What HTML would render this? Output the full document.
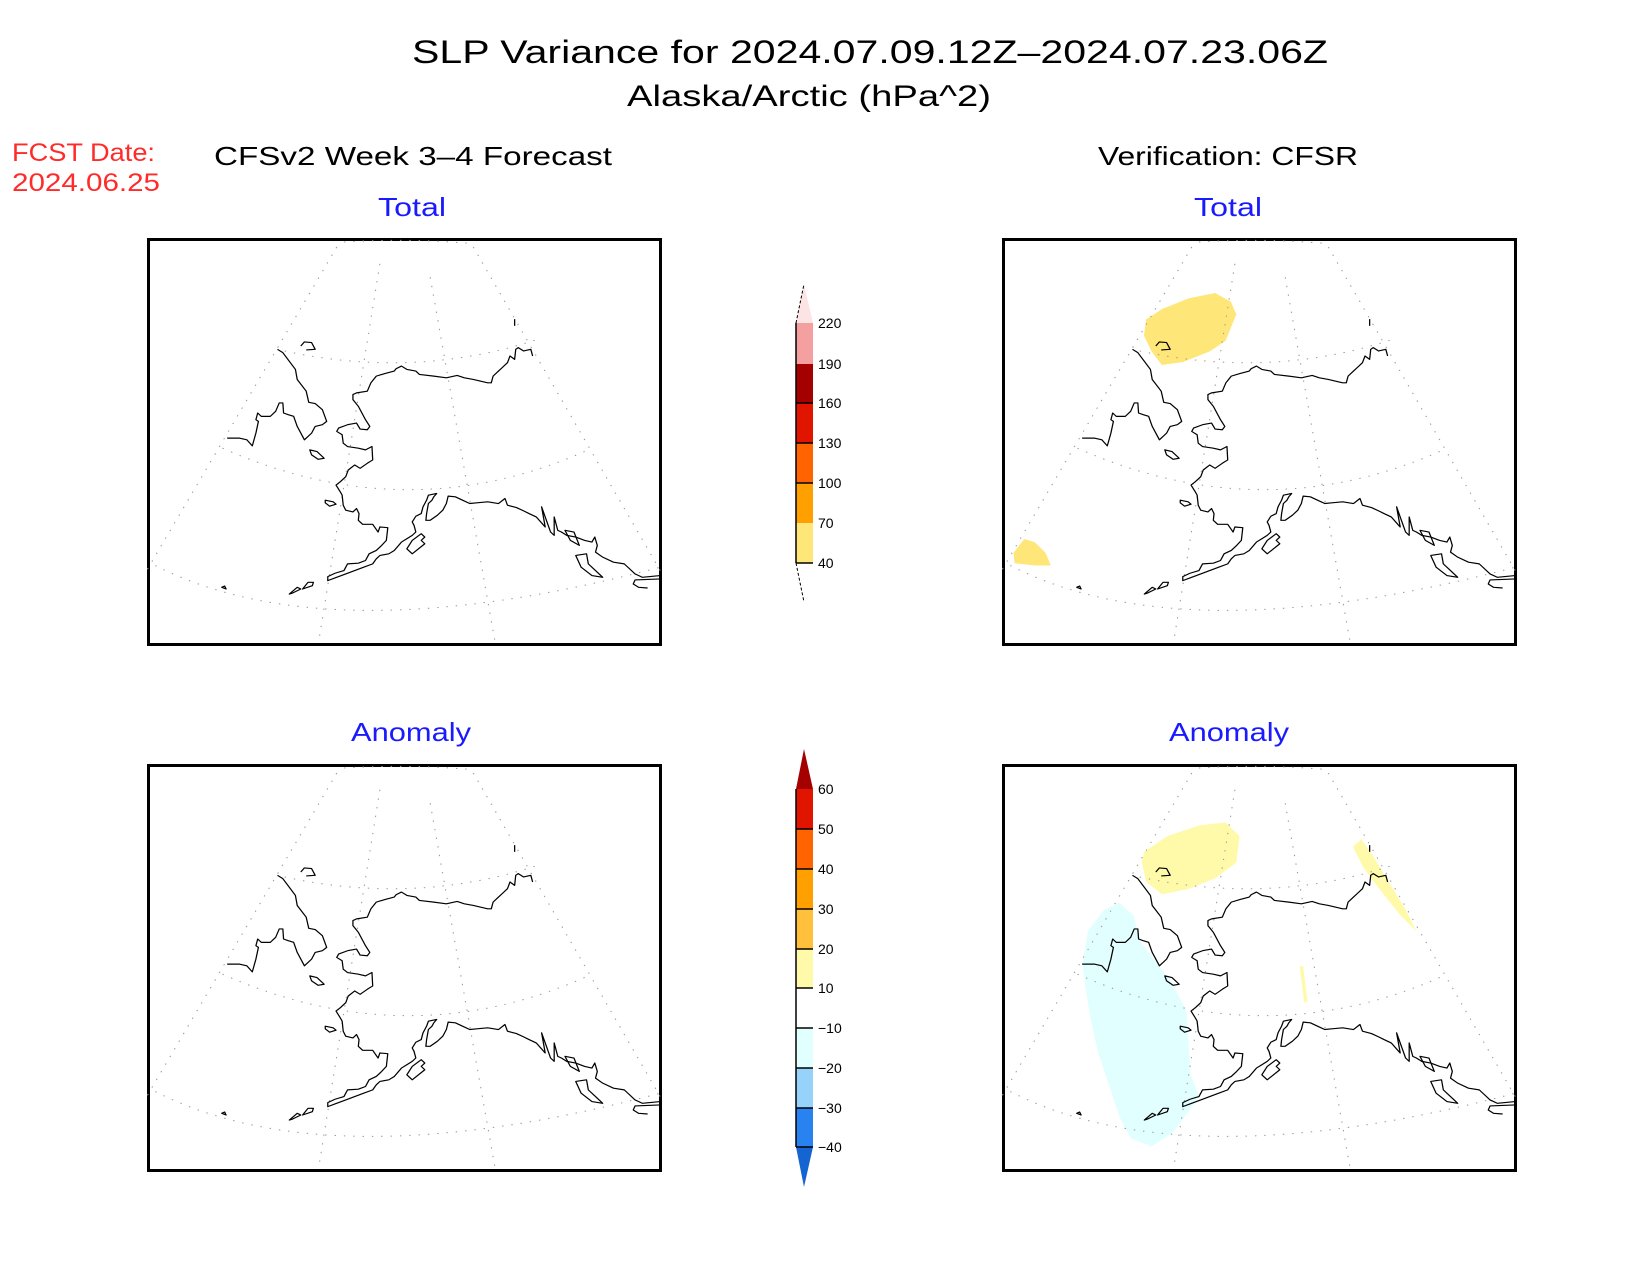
<!DOCTYPE html>
<html><head><meta charset="utf-8"><style>
html,body{margin:0;padding:0;background:#fff;}
body{width:1650px;height:1275px;position:relative;overflow:hidden;font-family:"Liberation Sans",sans-serif;}
.panel{position:absolute;border:3px solid #000;box-sizing:border-box;width:515px;height:408px;}
.panel svg{position:absolute;left:-3px;top:-3px;width:515px;height:408px;}
</style></head><body>

<svg width="1650" height="1275" style="position:absolute;left:0;top:0" font-family="Liberation Sans, sans-serif">
<text x="412" y="63" font-size="32" textLength="916" lengthAdjust="spacingAndGlyphs">SLP Variance for 2024.07.09.12Z–2024.07.23.06Z</text>
<text x="627" y="106" font-size="30" textLength="364" lengthAdjust="spacingAndGlyphs">Alaska/Arctic (hPa^2)</text>
<text x="214" y="165" font-size="26" textLength="398" lengthAdjust="spacingAndGlyphs">CFSv2 Week 3–4 Forecast</text>
<text x="1098" y="165" font-size="26" textLength="260" lengthAdjust="spacingAndGlyphs">Verification: CFSR</text>
<text x="12" y="161" font-size="25" fill="#ff2a2a" textLength="143" lengthAdjust="spacingAndGlyphs">FCST Date:</text>
<text x="12" y="191" font-size="25" fill="#ff2a2a" textLength="148" lengthAdjust="spacingAndGlyphs">2024.06.25</text>
<text x="378" y="216" font-size="26" fill="#1a1aff" textLength="68" lengthAdjust="spacingAndGlyphs">Total</text>
<text x="1194" y="216" font-size="26" fill="#1a1aff" textLength="68" lengthAdjust="spacingAndGlyphs">Total</text>
<text x="351" y="741" font-size="26" fill="#1a1aff" textLength="120" lengthAdjust="spacingAndGlyphs">Anomaly</text>
<text x="1169" y="741" font-size="26" fill="#1a1aff" textLength="120" lengthAdjust="spacingAndGlyphs">Anomaly</text>

<!-- colorbar 1 -->
<g stroke="#000" stroke-width="1.5">
<polygon points="796,323 813,323 804,284" fill="#fde4e4" stroke="none"/>
<line x1="796" y1="323" x2="804" y2="284" stroke-dasharray="3,2" stroke-width="1"/>
<rect x="796" y="323" width="17" height="41" fill="#f4a0a0" stroke="none"/>
<rect x="796" y="364" width="17" height="39" fill="#a50000" stroke="none"/>
<rect x="796" y="403" width="17" height="40" fill="#e11400" stroke="none"/>
<rect x="796" y="443" width="17" height="40" fill="#ff6400" stroke="none"/>
<rect x="796" y="483" width="17" height="40" fill="#ffa000" stroke="none"/>
<rect x="796" y="523" width="17" height="40" fill="#ffe678" stroke="none"/>
<line x1="796" y1="323" x2="796" y2="563"/>
<line x1="796" y1="403" x2="813" y2="403"/><line x1="796" y1="443" x2="813" y2="443"/><line x1="796" y1="483" x2="813" y2="483"/><line x1="796" y1="563" x2="813" y2="563"/>
<line x1="796" y1="563" x2="804" y2="602" stroke-dasharray="3,2" stroke-width="1"/>
</g>
<g font-size="14">
<text x="818" y="328">220</text><text x="818" y="369">190</text><text x="818" y="408">160</text><text x="818" y="448">130</text><text x="818" y="488">100</text><text x="818" y="528">70</text><text x="818" y="568">40</text>
</g>

<!-- colorbar 2 -->
<polygon points="796,789 813,789 804,749" fill="#a50000"/>
<rect x="796" y="789" width="17" height="40" fill="#e11400"/>
<rect x="796" y="829" width="17" height="40" fill="#ff6400"/>
<rect x="796" y="869" width="17" height="40" fill="#ffa000"/>
<rect x="796" y="909" width="17" height="40" fill="#ffc03c"/>
<rect x="796" y="949" width="17" height="39" fill="#fffaaa"/>
<rect x="796" y="1028" width="17" height="40" fill="#e1ffff"/>
<rect x="796" y="1068" width="17" height="40" fill="#96d2fa"/>
<rect x="796" y="1108" width="17" height="39" fill="#2882f0"/>
<polygon points="796,1147 813,1147 804,1187" fill="#1464d2"/>
<g stroke="#000" stroke-width="1.5">
<line x1="796" y1="789" x2="796" y2="1147"/>
<line x1="796" y1="829" x2="813" y2="829"/><line x1="796" y1="869" x2="813" y2="869"/><line x1="796" y1="909" x2="813" y2="909"/><line x1="796" y1="949" x2="813" y2="949"/><line x1="796" y1="988" x2="813" y2="988"/><line x1="796" y1="1028" x2="813" y2="1028"/><line x1="796" y1="1068" x2="813" y2="1068"/><line x1="796" y1="1108" x2="813" y2="1108"/><line x1="796" y1="1147" x2="813" y2="1147"/>
</g>
<g font-size="14">
<text x="818" y="794">60</text><text x="818" y="834">50</text><text x="818" y="874">40</text><text x="818" y="914">30</text><text x="818" y="954">20</text><text x="818" y="993">10</text><text x="818" y="1033">−10</text><text x="818" y="1073">−20</text><text x="818" y="1113">−30</text><text x="818" y="1152">−40</text>
</g>
</svg>

<svg width="0" height="0" style="position:absolute">
<defs>
<g id="map">
<g fill="none" stroke="#999" stroke-width="3" stroke-dasharray="4,22">
<path d="M75,1035 Q560,1300 1480,1040"/>
<path d="M262,685 Q780,930 1280,690"/>
<path d="M435,395 Q800,480 1140,360"/>
<path d="M600,70 Q780,58 960,75"/>
<path d="M580,85 L40,1070"/>
<path d="M700,135 L530,1260"/>
<path d="M840,175 L1020,1260"/>
<path d="M960,85 L1480,1050"/>
</g>
<g fill="none" stroke="#000" stroke-width="3.5" stroke-linejoin="round">
<path d="M415,390 L430,400 465,450 470,480 495,515 502,548 520,552 540,570 552,605 540,615 520,620 510,640 490,660 470,620 460,590 445,585 432,580 430,550 420,550 410,575 395,590 370,590 360,580 355,600 362,605 355,640 345,678 330,660 310,655 275,655"/>
<path d="M1125,410 L1120,390 1100,395 1085,385 1078,390 1075,420 1062,410 1055,430 1040,445 1030,455 1015,470 1010,490 1000,490 960,480 935,475 915,468 885,475 850,470 810,465 800,455 775,450 760,440 745,448 740,455 715,462 690,470 675,490 665,515 635,520 625,525 625,540 640,560 650,580 660,600 672,620 665,630 645,628 635,610 610,615 585,625 580,635 595,645 598,670 610,680 640,685 660,690 678,680 680,720 665,730 645,745 630,735 612,750 605,770 590,785 578,795 588,812 595,825 598,855 605,870 625,875 635,865 642,880 640,900 652,912 680,912 695,935 700,920 722,922 718,960 705,975 690,990 670,1000 660,1020 640,1028 610,1030 600,1050 575,1058 555,1068 555,1080 575,1072 605,1060 630,1050 655,1040 680,1030 690,1015 700,1005 725,1000 740,990 760,965 775,955 790,945 800,935 795,915 790,905 800,888 815,880 820,860 830,840 835,825 858,820 850,830 845,840 835,850 830,880 828,900 840,900 860,885 875,870 885,850 890,828 910,830 930,840 950,850 970,848 1000,845 1030,850 1048,835 1055,855 1080,862 1100,872 1115,880 1135,890 1160,920 1150,860 1175,935 1185,945 1185,890 1195,930 1205,935 1220,945 1245,950 1270,960 1290,965 1298,950 1305,975 1300,995 1320,1010 1350,1025 1380,1030 1395,1045 1410,1060 1430,1070 1480,1065"/>
<path d="M505,690 L525,695 545,715 528,718 510,705 Z"/>
<path d="M548,840 L570,845 578,852 560,858 548,848 Z"/>
<path d="M775,985 L790,960 815,940 825,950 815,960 825,970 790,1000 Z"/>
<path d="M480,380 L490,368 510,370 520,390 495,392"/>
<path d="M448,1120 L470,1100 480,1105 455,1118 Z"/>
<path d="M485,1105 L500,1085 515,1085 512,1095 Z"/>
<path d="M260,1100 L268,1096 272,1105 Z"/>
<path d="M1245,1005 L1275,1000 1280,1030 1300,1050 1320,1070 1290,1065 1260,1040 Z"/>
<path d="M1215,930 L1240,935 1255,975 1230,960 Z"/>
<path d="M1480,1075 L1410,1078 1405,1090 1420,1100 1445,1102"/>
<path d="M1075,300 L1075,320"/>
</g>
</g>
</defs>
</svg>

<div class="panel" style="left:147px;top:238px;">
<svg viewBox="52 58 1433 1217" preserveAspectRatio="none"><use href="#map"/></svg>
</div>
<div class="panel" style="left:1002px;top:238px;">
<svg viewBox="52 58 1433 1217" preserveAspectRatio="none">
<polygon fill="#ffe678" points="453,301 497,270 571,238 645,222 689,248 704,286 674,365 630,396 556,428 497,437 468,396 447,349"/>
<polygon fill="#ffe678" points="84,997 114,956 143,965 173,997 188,1035 143,1035 87,1028"/>
<use href="#map"/></svg>
</div>
<div class="panel" style="left:147px;top:764px;">
<svg viewBox="52 58 1433 1217" preserveAspectRatio="none"><use href="#map"/></svg>
</div>
<div class="panel" style="left:1002px;top:764px;">
<svg viewBox="52 58 1433 1217" preserveAspectRatio="none">
<polygon fill="#fffaaa" points="447,320 512,273 601,241 674,232 713,273 704,352 645,399 571,431 497,447 453,409 441,352"/>
<polygon fill="#fffaaa" points="1028,305 1052,282 1087,336 1131,415 1176,494 1205,557 1161,510 1102,431 1058,368"/>
<polygon fill="#fffaaa" points="880,662 890,660 902,768 893,770"/>
<polygon fill="#e1ffff" points="291,557 335,494 379,472 418,510 438,589 483,652 527,715 565,795 571,889 577,984 600,1047 571,1095 527,1158 468,1199 409,1174 379,1111 350,1016 320,921 300,826 285,731 276,652"/>
<use href="#map"/></svg>
</div>
</body></html>
